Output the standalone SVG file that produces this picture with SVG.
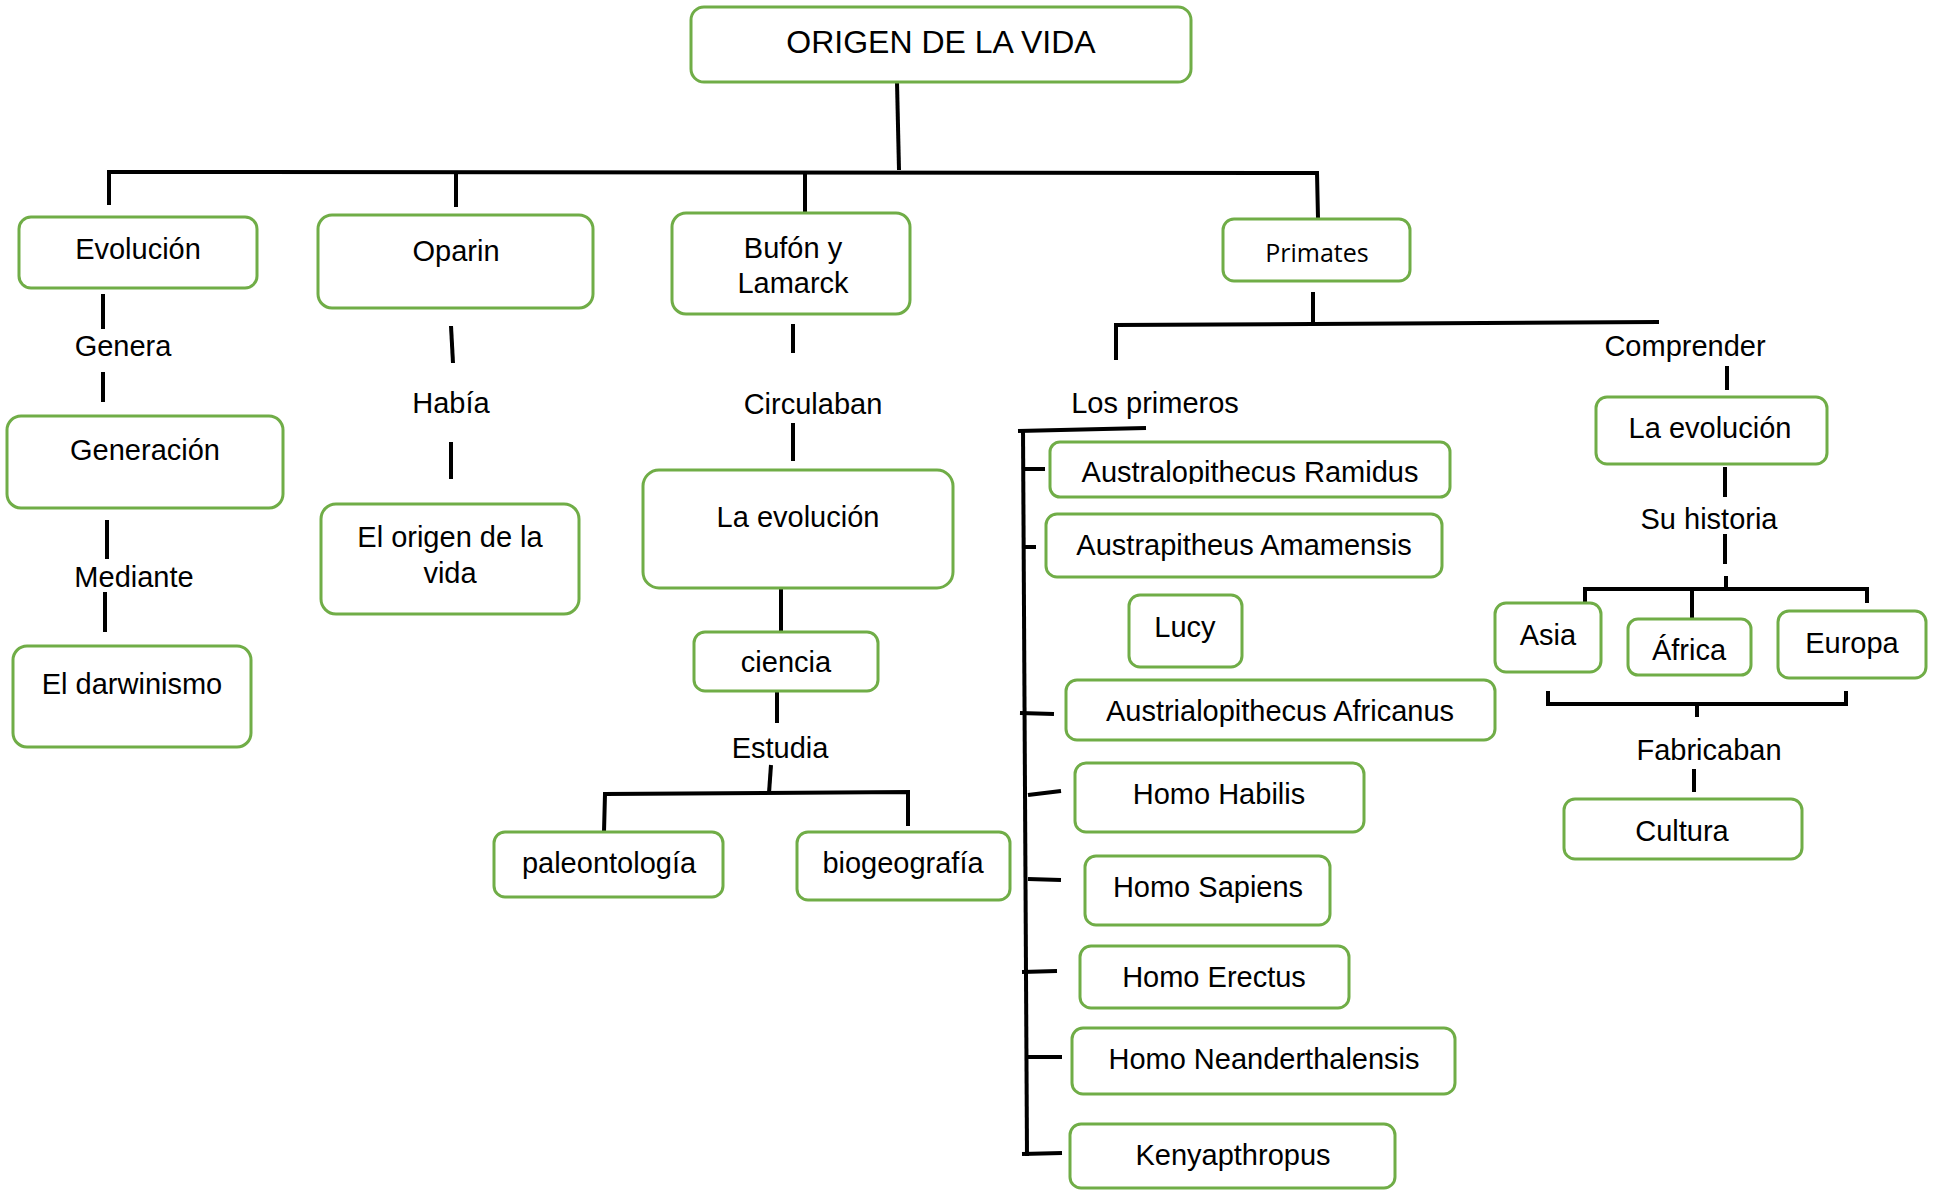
<svg xmlns="http://www.w3.org/2000/svg" width="1944" height="1192" viewBox="0 0 1944 1192">
<style>
.b{fill:#fff;stroke:#70AD47;stroke-width:3}
.t{font-family:"Liberation Sans",Arial,sans-serif;font-size:29px;fill:#000;text-anchor:middle}
.c line,.c polyline{stroke:#000;stroke-width:4;fill:none}
</style>
<defs>
<clipPath id="clipRam"><rect x="1040" y="440" width="420" height="44"/></clipPath>
</defs>
<rect width="1944" height="1192" fill="#fff"/>
<g class="c" id="connectors">
<line x1="897" y1="82" x2="899" y2="170"/>
<polyline points="109,205 109,172 1317,173 1318,218"/>
<line x1="456" y1="172" x2="456" y2="207"/>
<line x1="805" y1="174" x2="805" y2="212"/>
<line x1="103" y1="294" x2="103" y2="329"/>
<line x1="103" y1="372" x2="103" y2="402"/>
<line x1="107" y1="520" x2="107" y2="559"/>
<line x1="105" y1="592" x2="105" y2="632"/>
<line x1="451" y1="326" x2="453" y2="363"/>
<line x1="451" y1="442" x2="451" y2="479"/>
<line x1="793" y1="324" x2="793" y2="353"/>
<line x1="793" y1="423" x2="793" y2="461"/>
<line x1="781" y1="588" x2="781" y2="632"/>
<line x1="777" y1="691" x2="777" y2="723"/>
<line x1="771" y1="765" x2="769" y2="793"/>
<polyline points="604,832 605,794 908,792 908,826"/>
<line x1="1313" y1="292" x2="1313" y2="324"/>
<polyline points="1116,360 1116,325 1659,322"/>
<line x1="1727" y1="366" x2="1727" y2="390"/>
<line x1="1725" y1="467" x2="1725" y2="497"/>
<line x1="1725" y1="534" x2="1725" y2="564"/>
<line x1="1726" y1="576" x2="1726" y2="590"/>
<polyline points="1585,603 1585,589 1867,589 1867,603"/>
<line x1="1692" y1="589" x2="1692" y2="619"/>
<polyline points="1548,691 1548,704 1846,704 1846,691"/>
<line x1="1697" y1="704" x2="1697" y2="717"/>
<line x1="1694" y1="769" x2="1694" y2="792"/>
<line x1="1018" y1="431" x2="1146" y2="428"/>
<line x1="1023" y1="429" x2="1027" y2="1156"/>
<line x1="1023" y1="469" x2="1045" y2="469"/>
<line x1="1023" y1="547" x2="1036" y2="547"/>
<line x1="1020" y1="713" x2="1054" y2="714"/>
<line x1="1028" y1="795" x2="1061" y2="791"/>
<line x1="1028" y1="879" x2="1061" y2="880"/>
<line x1="1022" y1="972" x2="1057" y2="971"/>
<line x1="1028" y1="1057" x2="1062" y2="1057"/>
<line x1="1022" y1="1154" x2="1062" y2="1153"/>
</g>
<g id="root"><rect class="b" x="691" y="7" width="500" height="75" rx="13"/><text class="t" x="941" y="53" style="font-size:32px">ORIGEN DE LA VIDA</text></g>
<g id="evolucion"><rect class="b" x="19" y="217" width="238" height="71" rx="12"/><text class="t" x="138" y="259">Evolución</text></g>
<g id="oparin"><rect class="b" x="318" y="215" width="275" height="93" rx="14"/><text class="t" x="456" y="261">Oparin</text></g>
<g id="bufon"><rect class="b" x="672" y="213" width="238" height="101" rx="14"/><text class="t" x="793" y="258">Bufón y</text><text class="t" x="793" y="293">Lamarck</text></g>
<g id="primates"><rect class="b" x="1223" y="219" width="187" height="62" rx="11"/><text class="t" x="1317" y="262" style="font-family:'Open Sans',sans-serif;font-size:25px">Primates</text></g>
<g id="generacion"><rect class="b" x="7" y="416" width="276" height="92" rx="14"/><text class="t" x="145" y="460">Generación</text></g>
<g id="darwinismo"><rect class="b" x="13" y="646" width="238" height="101" rx="14"/><text class="t" x="132" y="694">El darwinismo</text></g>
<g id="origen"><rect class="b" x="321" y="504" width="258" height="110" rx="15"/><text class="t" x="450" y="547">El origen de la</text><text class="t" x="450" y="583">vida</text></g>
<g id="laevolucion1"><rect class="b" x="643" y="470" width="310" height="118" rx="16"/><text class="t" x="798" y="527">La evolución</text></g>
<g id="ciencia"><rect class="b" x="694" y="632" width="184" height="59" rx="11"/><text class="t" x="786" y="672">ciencia</text></g>
<g id="paleontologia"><rect class="b" x="494" y="832" width="229" height="65" rx="11"/><text class="t" x="609" y="873">paleontología</text></g>
<g id="biogeografia"><rect class="b" x="797" y="832" width="213" height="68" rx="11"/><text class="t" x="903" y="873">biogeografía</text></g>
<g id="ramidus"><rect class="b" x="1050" y="442" width="400" height="55" rx="10"/><text class="t" x="1250" y="482" clip-path="url(#clipRam)">Australopithecus Ramidus</text></g>
<g id="amamensis"><rect class="b" x="1046" y="514" width="396" height="63" rx="11"/><text class="t" x="1244" y="555">Austrapitheus Amamensis</text></g>
<g id="lucy"><rect class="b" x="1129" y="595" width="113" height="72" rx="11"/><text class="t" x="1185" y="637">Lucy</text></g>
<g id="africanus"><rect class="b" x="1066" y="680" width="429" height="60" rx="11"/><text class="t" x="1280" y="721">Austrialopithecus Africanus</text></g>
<g id="habilis"><rect class="b" x="1075" y="763" width="289" height="69" rx="11"/><text class="t" x="1219" y="804">Homo Habilis</text></g>
<g id="sapiens"><rect class="b" x="1085" y="856" width="245" height="69" rx="11"/><text class="t" x="1208" y="897">Homo Sapiens</text></g>
<g id="erectus"><rect class="b" x="1080" y="946" width="269" height="62" rx="11"/><text class="t" x="1214" y="987">Homo Erectus</text></g>
<g id="neanderthalensis"><rect class="b" x="1072" y="1028" width="383" height="66" rx="11"/><text class="t" x="1264" y="1069">Homo Neanderthalensis</text></g>
<g id="kenyapthropus"><rect class="b" x="1070" y="1124" width="325" height="64" rx="11"/><text class="t" x="1233" y="1165">Kenyapthropus</text></g>
<g id="laevolucion2"><rect class="b" x="1596" y="397" width="231" height="67" rx="11"/><text class="t" x="1710" y="438">La evolución</text></g>
<g id="asia"><rect class="b" x="1495" y="603" width="106" height="69" rx="11"/><text class="t" x="1548" y="645">Asia</text></g>
<g id="africa"><rect class="b" x="1628" y="619" width="123" height="56" rx="10"/><text class="t" x="1689" y="660">África</text></g>
<g id="europa"><rect class="b" x="1778" y="611" width="148" height="67" rx="11"/><text class="t" x="1852" y="653">Europa</text></g>
<g id="cultura"><rect class="b" x="1564" y="799" width="238" height="60" rx="11"/><text class="t" x="1682" y="841">Cultura</text></g>
<g id="labels">
<text class="t" x="123" y="356">Genera</text>
<text class="t" x="451" y="413">Había</text>
<text class="t" x="134" y="587">Mediante</text>
<text class="t" x="813" y="414">Circulaban</text>
<text class="t" x="780" y="758">Estudia</text>
<text class="t" x="1155" y="413">Los primeros</text>
<text class="t" x="1685" y="356">Comprender</text>
<text class="t" x="1709" y="529">Su historia</text>
<text class="t" x="1709" y="760">Fabricaban</text>
</g>
</svg>
